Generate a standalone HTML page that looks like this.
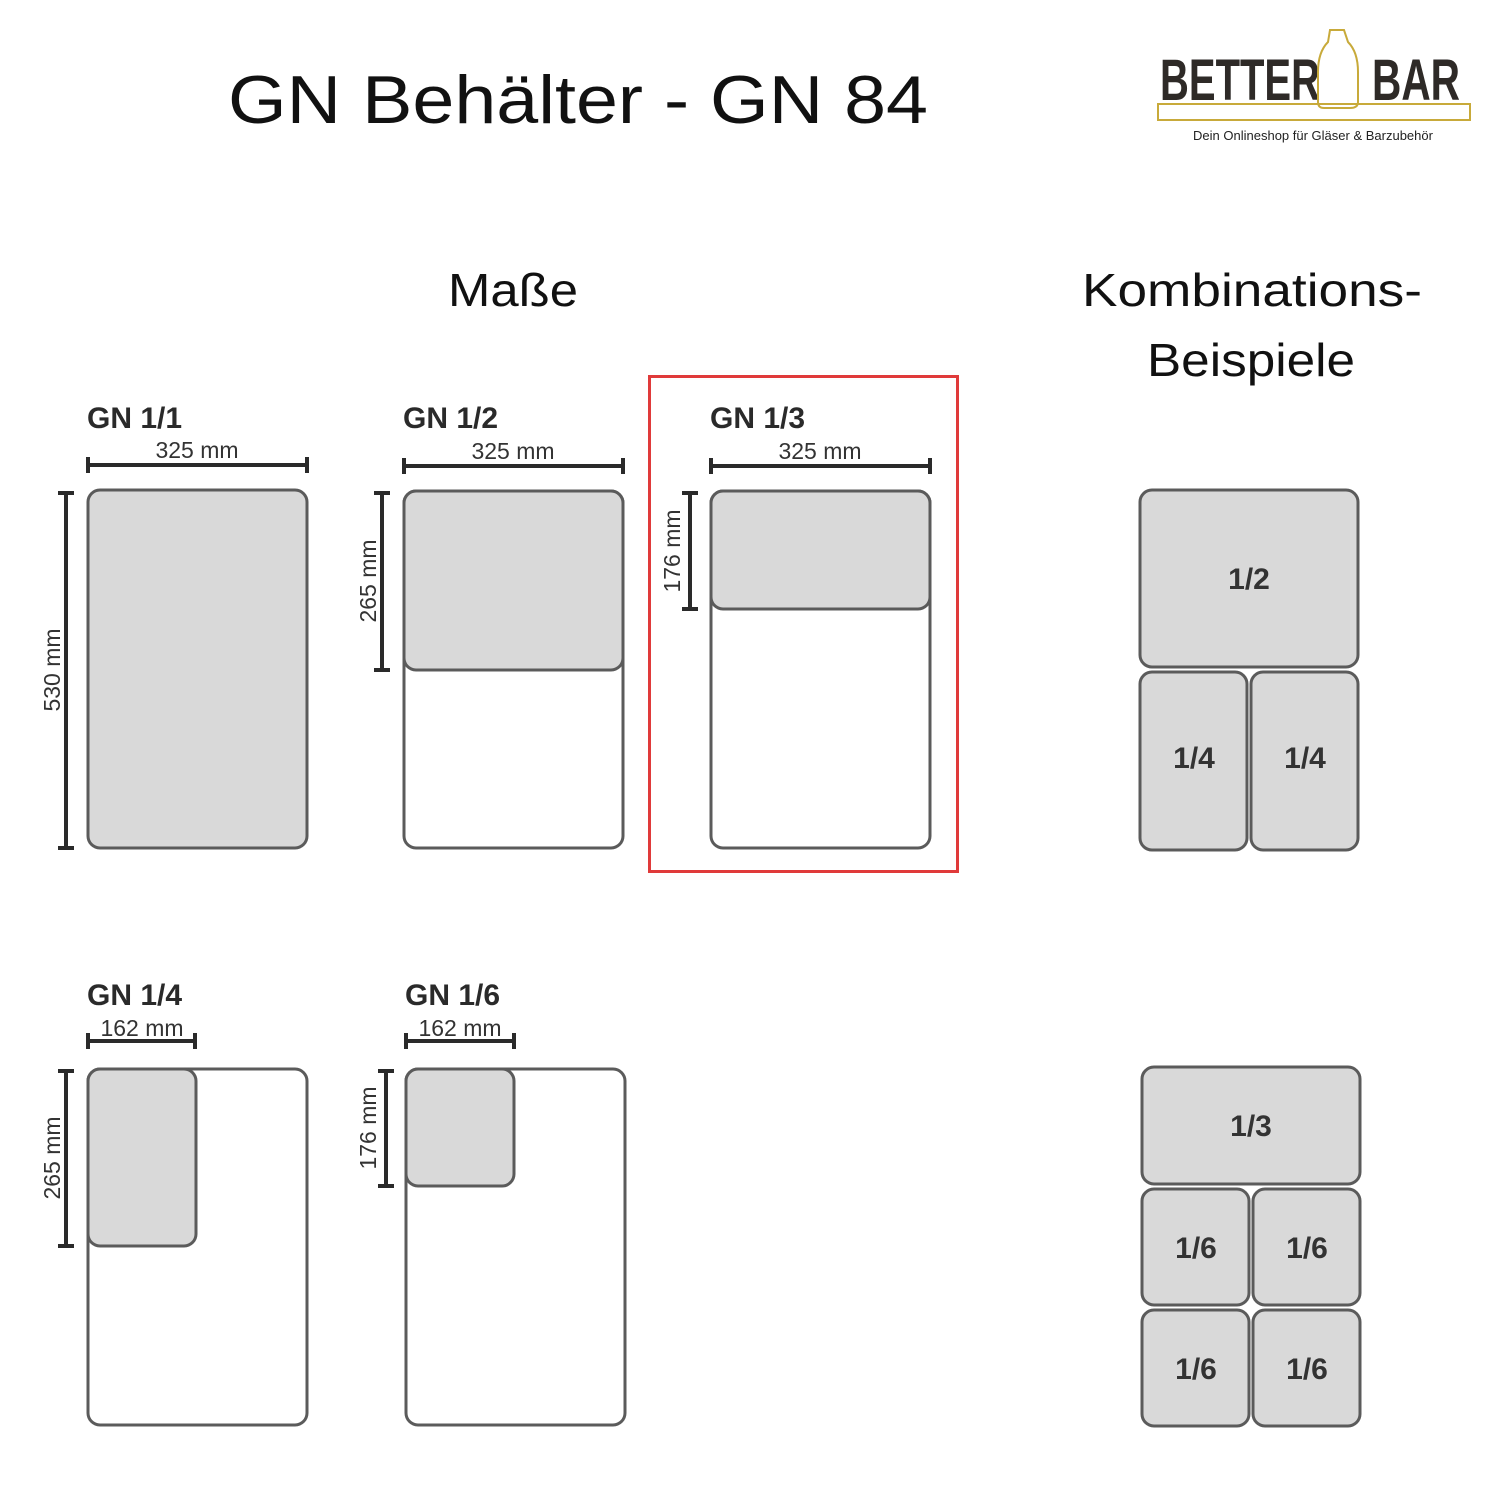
<!DOCTYPE html>
<html><head><meta charset="utf-8"><style>html,body{margin:0;padding:0;background:#fff}svg{display:block}</style></head>
<body>
<svg width="1500" height="1500" viewBox="0 0 1500 1500" xmlns="http://www.w3.org/2000/svg" font-family="'Liberation Sans', sans-serif">
<rect width="1500" height="1500" fill="#fff"/>
<text x="228" y="123" font-size="68" fill="#111" textLength="700" lengthAdjust="spacingAndGlyphs">GN Behälter - GN 84</text>
<g>
<text x="1160" y="100" font-size="58" font-weight="bold" fill="#2e2a27" textLength="160" lengthAdjust="spacingAndGlyphs">BETTER</text>
<text x="1372" y="100" font-size="58" font-weight="bold" fill="#2e2a27" textLength="88" lengthAdjust="spacingAndGlyphs">BAR</text>
<path d="M1330 30 h14 l4 12 q10 10 10 30 v30 q0 6 -8 6 h-26 q-6 0 -6 -6 v-30 q0 -20 10 -30z" fill="none" stroke="#c8aa3a" stroke-width="2"/>
<rect x="1158" y="104" width="312" height="16" fill="none" stroke="#c8aa3a" stroke-width="2"/>
<text x="1313" y="140" font-size="13" fill="#222" text-anchor="middle">Dein Onlineshop für Gläser &amp; Barzubehör</text>
</g>
<text x="448" y="306" font-size="46" fill="#111" textLength="130" lengthAdjust="spacingAndGlyphs">Maße</text>
<text x="1082" y="306" font-size="46" fill="#111" textLength="340" lengthAdjust="spacingAndGlyphs">Kombinations-</text>
<text x="1147" y="376" font-size="46" fill="#111" textLength="208" lengthAdjust="spacingAndGlyphs">Beispiele</text>
<rect x="649.5" y="376.5" width="308" height="495" fill="none" stroke="#e03a3a" stroke-width="3"/>
<g stroke="#5b5b5b" stroke-width="3">
<rect x="88" y="490" width="219" height="358" rx="12" fill="#d9d9d9"/>
<rect x="404" y="491" width="219" height="357" rx="12" fill="#fff"/>
<rect x="404" y="491" width="219" height="179" rx="12" fill="#d9d9d9"/>
<rect x="711" y="491" width="219" height="357" rx="12" fill="#fff"/>
<rect x="711" y="491" width="219" height="118" rx="12" fill="#d9d9d9"/>
<rect x="88" y="1069" width="219" height="356" rx="12" fill="#fff"/>
<rect x="88" y="1069" width="108" height="177" rx="12" fill="#d9d9d9"/>
<rect x="406" y="1069" width="219" height="356" rx="12" fill="#fff"/>
<rect x="406" y="1069" width="108" height="117" rx="12" fill="#d9d9d9"/>
<rect x="1140" y="490" width="218" height="177" rx="12" fill="#d9d9d9"/>
<rect x="1140" y="672" width="107" height="178" rx="12" fill="#d9d9d9"/>
<rect x="1251" y="672" width="107" height="178" rx="12" fill="#d9d9d9"/>
<rect x="1142" y="1067" width="218" height="117" rx="12" fill="#d9d9d9"/>
<rect x="1142" y="1189" width="107" height="116" rx="12" fill="#d9d9d9"/>
<rect x="1253" y="1189" width="107" height="116" rx="12" fill="#d9d9d9"/>
<rect x="1142" y="1310" width="107" height="116" rx="12" fill="#d9d9d9"/>
<rect x="1253" y="1310" width="107" height="116" rx="12" fill="#d9d9d9"/>
</g>
<g stroke="#2a2a2a" stroke-width="4" fill="none">
<path d="M88 465H307M88 457v16M307 457v16"/>
<path d="M404 466H623M404 458v16M623 458v16"/>
<path d="M711 466H930M711 458v16M930 458v16"/>
<path d="M88 1041H195M88 1033v16M195 1033v16"/>
<path d="M406 1041H514M406 1033v16M514 1033v16"/>
<path d="M66 493V848M58 493h16M58 848h16"/>
<path d="M382 493V670M374 493h16M374 670h16"/>
<path d="M690 493V609M682 493h16M682 609h16"/>
<path d="M66 1071V1246M58 1071h16M58 1246h16"/>
<path d="M386 1071V1186M378 1071h16M378 1186h16"/>
</g>
<g font-size="30" font-weight="bold" fill="#2a2a2a">
<text x="87" y="428">GN 1/1</text>
<text x="403" y="428">GN 1/2</text>
<text x="710" y="428">GN 1/3</text>
<text x="87" y="1005">GN 1/4</text>
<text x="405" y="1005">GN 1/6</text>
</g>
<g font-size="23" fill="#333" text-anchor="middle">
<text x="197" y="458">325 mm</text>
<text x="513" y="459">325 mm</text>
<text x="820" y="459">325 mm</text>
<text x="142" y="1036">162 mm</text>
<text x="460" y="1036">162 mm</text>
<text transform="translate(60,670) rotate(-90)">530 mm</text>
<text transform="translate(376,581) rotate(-90)">265 mm</text>
<text transform="translate(680,551) rotate(-90)">176 mm</text>
<text transform="translate(60,1158) rotate(-90)">265 mm</text>
<text transform="translate(376,1128) rotate(-90)">176 mm</text>
</g>
<g font-size="30" font-weight="bold" fill="#333" text-anchor="middle">
<text x="1249" y="589">1/2</text>
<text x="1194" y="768">1/4</text>
<text x="1305" y="768">1/4</text>
<text x="1251" y="1136">1/3</text>
<text x="1196" y="1258">1/6</text>
<text x="1307" y="1258">1/6</text>
<text x="1196" y="1379">1/6</text>
<text x="1307" y="1379">1/6</text>
</g>
</svg>
</body></html>
